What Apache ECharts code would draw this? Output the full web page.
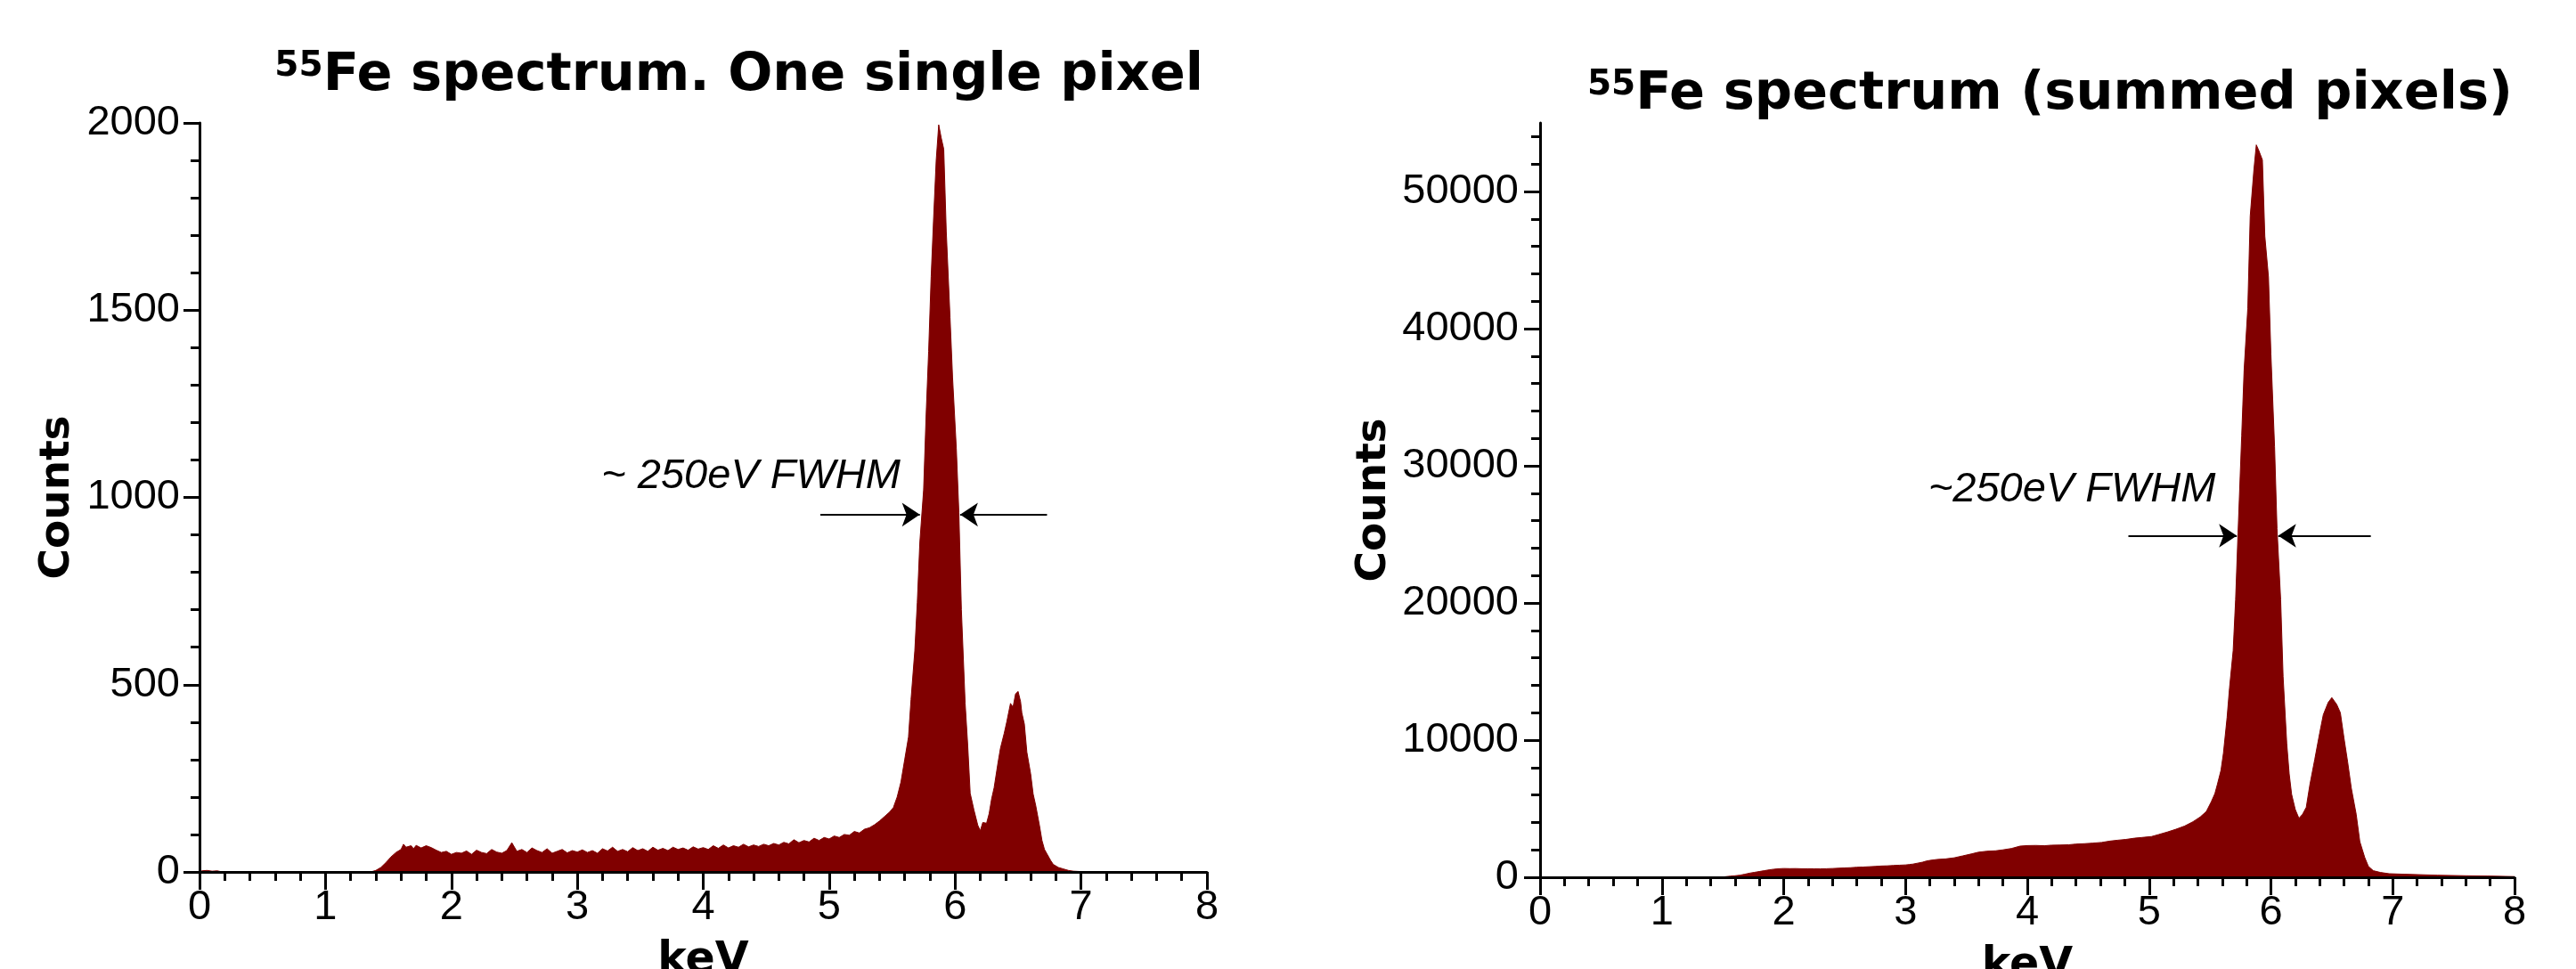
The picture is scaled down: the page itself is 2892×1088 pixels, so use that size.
<!DOCTYPE html>
<html>
<head>
<meta charset="utf-8">
<script src="https://cdn.jsdelivr.net/npm/echarts@6/dist/echarts.min.js"></script>
<style>
html,body{margin:0;padding:0;background:#fff;}
#chart{width:2892px;height:1088px;}
</style>
</head>
<body>
<div id="chart"></div>
<script>
// ---------- data ----------
const leftTitle = 'Fe spectrum. One single pixel';
const rightTitle = 'Fe spectrum (summed pixels)';
const isotope = '55';
const xName = 'keV';
const yName = 'Counts';
const leftNoteText = '~ 250eV FWHM';
const rightNoteText = '~250eV FWHM';

const leftKeV = [0.00,0.02,0.06,0.10,0.14,0.18,1.36,1.40,1.44,1.48,1.52,1.56,1.60,1.62,1.64,1.68,1.70,1.72,1.76,1.80,1.84,1.88,1.92,1.96,
2.00,2.04,2.08,2.12,2.16,2.20,2.24,2.28,2.32,2.36,2.40,2.44,2.48,2.52,2.56,2.60,2.64,2.68,2.72,2.76,2.80,2.84,2.88,2.92,2.96,
3.00,3.04,3.08,3.12,3.16,3.20,3.24,3.28,3.32,3.36,3.40,3.44,3.48,3.52,3.56,3.60,3.64,3.68,3.72,3.76,3.80,3.84,3.88,3.92,3.96,
4.00,4.04,4.08,4.12,4.16,4.20,4.24,4.28,4.32,4.36,4.40,4.44,4.48,4.52,4.56,4.60,4.64,4.68,4.72,4.76,4.80,4.84,4.88,4.92,4.96,
5.00,5.04,5.08,5.12,5.16,5.20,5.24,5.28,5.32,5.36,5.40,5.44,5.48,5.51,5.54,5.57,5.60,5.63,5.65,5.68,5.70,5.72,5.75,5.77,5.79,
5.81,5.83,5.85,5.87,5.89,5.91,5.93,5.96,5.98,6.01,6.03,6.05,6.08,6.10,6.12,6.15,6.18,6.20,6.22,6.25,6.27,6.29,6.31,6.34,6.36,
6.39,6.41,6.44,6.46,6.48,6.50,6.52,6.53,6.55,6.57,6.60,6.62,6.64,6.67,6.69,6.71,6.73,6.76,6.78,6.82,6.86,6.90,6.94,7.00,7.10,8.00];
const leftCounts = [0,3,4,2,3,0,0,4,12,25,40,52,60,74,66,70,62,71,64,70,65,58,52,55,
47,52,50,56,47,58,52,49,60,53,50,57,78,55,60,52,64,57,52,62,50,55,60,51,57,
53,59,52,57,50,62,56,66,55,60,54,65,57,62,55,66,58,63,57,66,60,64,58,67,61,
65,60,70,63,72,64,70,66,74,67,72,68,74,70,76,72,79,75,86,78,84,80,90,84,92,
88,96,92,100,98,108,104,114,118,126,136,148,160,172,200,240,300,360,460,590,720,880,1020,1220,1390,
1590,1750,1900,1995,1960,1930,1710,1480,1320,1130,960,700,450,340,210,165,125,110,132,130,155,195,225,290,330,
370,400,450,440,475,482,455,425,395,320,262,208,178,124,84,60,48,30,20,12,8,4,2,1,0,0];

const rightKeV = [0.00,1.48,1.52,1.56,1.60,1.64,1.68,1.72,1.76,1.80,1.84,1.88,1.92,1.96,2.00,2.05,2.10,2.15,2.20,2.25,2.30,2.35,2.40,2.45,
2.50,2.55,2.60,2.65,2.70,2.75,2.80,2.85,2.90,2.95,3.00,3.03,3.06,3.10,3.14,3.17,3.20,3.26,3.33,3.40,3.47,3.54,3.60,3.67,3.74,
3.80,3.87,3.94,4.00,4.07,4.14,4.20,4.27,4.34,4.40,4.47,4.54,4.61,4.68,4.74,4.81,4.88,4.94,5.02,5.08,5.15,5.22,5.29,5.36,5.42,
5.47,5.51,5.54,5.56,5.59,5.61,5.64,5.66,5.69,5.71,5.73,5.76,5.78,5.81,5.83,5.86,5.88,5.90,5.93,5.95,5.98,6.00,6.03,6.05,6.08,
6.10,6.13,6.15,6.17,6.20,6.23,6.26,6.29,6.32,6.36,6.40,6.43,6.47,6.50,6.54,6.57,6.60,6.63,6.66,6.70,6.73,6.77,6.80,6.84,6.90,
6.97,7.10,7.37,7.60,7.78,8.00];
const rightCounts = [0,0,40,80,110,150,220,300,360,420,480,540,590,620,640,630,635,620,625,615,610,625,640,660,
680,700,730,745,770,790,820,835,860,880,900,930,960,1030,1100,1180,1230,1300,1340,1420,1560,1700,1830,1900,1930,
2000,2100,2270,2310,2320,2300,2340,2350,2370,2420,2450,2490,2540,2640,2700,2760,2850,2900,2970,3120,3300,3500,3730,4050,4400,
4800,5500,6100,6760,7800,9040,11640,13800,16520,20220,25100,32180,37000,41480,48210,51560,53400,53000,52300,46750,43760,38130,31400,25420,20220,
14630,9750,7540,6050,4940,4300,4600,5100,6760,8600,10500,11850,12740,13100,12600,12000,10140,8400,6500,4600,2600,1450,800,480,350,
260,220,150,110,90,50];

// axis scales (tick values)
const xMin = 0, xMax = 8, xStep = 1, xMinorSplit = 5;
const leftYMax = 2000, leftYStep = 500, leftYMinorStep = 100;
const rightYMax = 55000, rightYStep = 10000, rightYMinorStep = 2000;

// FWHM annotations (data units: keV, counts)
const leftArrowY = 954;
const leftArrowIn = [4.93, 5.72];   // from, tip
const leftArrowOut = [6.73, 6.04];  // from, tip
const leftNoteAt = [5.57, 1056];
const rightArrowY = 24900;
const rightArrowIn = [4.83, 5.72];
const rightArrowOut = [6.82, 6.06];
const rightNoteAt = [5.55, 28220];

// ---------- chart ----------
const W = 2892, H = 1088;
const RED = '#800000';
const TICK_FONT = 'Liberation Sans, Arial, sans-serif';
const BOLD_FONT = 'DejaVu Sans, sans-serif';

function pairs(xs, ys){ return xs.map((x,i)=>[x, ys[i]]); }
const plain = v => String(v);

const L = {left:224, right:W-1355, top:138, bottom:H-979};
const R = {left:1729, right:W-2823, top:138, bottom:H-985};
const rH = H - R.top - R.bottom;
const majorTop = R.top + rH * (rightYMax - Math.floor(rightYMax/rightYStep)*rightYStep) / rightYMax;
const minorTop = R.top + rH * (rightYMax - Math.floor(rightYMax/rightYMinorStep)*rightYMinorStep) / rightYMax;

const axisLine = {show:true, lineStyle:{color:'#000', width:3}};
const tickLabel = {color:'#000', fontSize:47, fontFamily:TICK_FONT, formatter:plain};

function xAxisDef(gi, show){
  return {
    type:'value', gridIndex:gi, min:xMin, max:xMax, interval:xStep, show:show, z:5,
    axisLine:{...axisLine, onZero:false},
    axisTick:{show:true, length:20, lineStyle:{color:'#000', width:3}},
    minorTick:{show:true, splitNumber:xMinorSplit, length:10, lineStyle:{color:'#000', width:3}},
    axisLabel:{...tickLabel, margin:17},
    splitLine:{show:false}, minorSplitLine:{show:false},
    name:xName, nameLocation:'middle', nameGap:76, nameMoveOverlap:false,
    nameTextStyle:{color:'#000', fontSize:49, fontWeight:'bold', fontFamily:BOLD_FONT}
  };
}

const nameStyle = {color:'#000', fontSize:47, fontWeight:'bold', fontFamily:BOLD_FONT};
const supStyle = {fontSize:39, fontWeight:'bold', fontFamily:BOLD_FONT, color:'#000', padding:[0,0,22,0]};
const mainStyle = {fontSize:59, fontWeight:'bold', fontFamily:BOLD_FONT, color:'#000'};

const option = {
  animation:false,
  backgroundColor:'#fff',
  title:[
    {text:'{sup|'+isotope+'}{main|'+leftTitle+'}', right:W-1356, top:50,
     textStyle:{rich:{sup:supStyle, main:mainStyle}}},
    {text:'{sup|'+isotope+'}{main|'+rightTitle+'}', right:W-2826, top:71,
     textStyle:{rich:{sup:supStyle, main:mainStyle}}}
  ],
  grid:[
    {...L, containLabel:false, outerBoundsMode:'none'},
    {...R, containLabel:false, outerBoundsMode:'none'},
    {left:R.left, right:R.right, top:majorTop, bottom:R.bottom, containLabel:false, outerBoundsMode:'none'},
    {left:R.left, right:R.right, top:minorTop, bottom:R.bottom, containLabel:false, outerBoundsMode:'none'}
  ],
  xAxis:[
    xAxisDef(0, true),
    xAxisDef(1, true),
    {type:'value', gridIndex:2, min:xMin, max:xMax, show:false},
    {type:'value', gridIndex:3, min:xMin, max:xMax, show:false}
  ],
  yAxis:[
    {type:'value', gridIndex:0, min:0, max:leftYMax, interval:leftYStep, z:5,
     axisLine:{...axisLine, onZero:false},
     axisTick:{show:true, length:18, lineStyle:{color:'#000', width:3}},
     minorTick:{show:true, splitNumber:leftYStep/leftYMinorStep, length:10, lineStyle:{color:'#000', width:3}},
     axisLabel:{...tickLabel, margin:22},
     splitLine:{show:false}, minorSplitLine:{show:false},
     name:yName, nameLocation:'middle', nameGap:136, nameRotate:90, nameMoveOverlap:false, nameTextStyle:nameStyle},
    {type:'value', gridIndex:1, min:0, max:rightYMax, z:5,
     axisLine:{...axisLine, onZero:false},
     axisTick:{show:false}, axisLabel:{show:false}, splitLine:{show:false},
     name:yName, nameLocation:'middle', nameGap:163, nameRotate:90, nameMoveOverlap:false, nameTextStyle:nameStyle},
    {type:'value', gridIndex:2, min:0, max:Math.floor(rightYMax/rightYStep)*rightYStep, interval:rightYStep, z:5,
     axisLine:{show:false, onZero:false},
     axisTick:{show:true, length:18, lineStyle:{color:'#000', width:3}},
     axisLabel:{...tickLabel, margin:24}, splitLine:{show:false}},
    {type:'value', gridIndex:3, min:0, max:Math.floor(rightYMax/rightYMinorStep)*rightYMinorStep, interval:rightYMinorStep, z:5,
     axisLine:{show:false, onZero:false},
     axisTick:{show:true, length:10, lineStyle:{color:'#000', width:3}},
     axisLabel:{show:false}, splitLine:{show:false}}
  ],
  series:[
    {type:'line', xAxisIndex:0, yAxisIndex:0, data:pairs(leftKeV, leftCounts),
     symbol:'none', sampling:null, z:2,
     lineStyle:{color:RED, width:1}, areaStyle:{color:RED, opacity:1}, itemStyle:{color:RED},
     markLine:{silent:true, symbol:['none','arrow'], symbolSize:20, animation:false,
       lineStyle:{color:'#000', width:2, type:'solid'}, label:{show:false},
       data:[[{coord:[leftArrowIn[0], leftArrowY]},{coord:[leftArrowIn[1], leftArrowY]}],
             [{coord:[leftArrowOut[0], leftArrowY]},{coord:[leftArrowOut[1], leftArrowY]}]]},
     markPoint:{silent:true, symbol:'circle', symbolSize:1, itemStyle:{color:'rgba(0,0,0,0)'}, animation:false,
       label:{show:true, position:'left', distance:0, formatter:leftNoteText, color:'#000',
              fontSize:47, fontStyle:'italic', fontFamily:TICK_FONT},
       data:[{coord:leftNoteAt}]}
    },
    {type:'line', xAxisIndex:1, yAxisIndex:1, data:pairs(rightKeV, rightCounts),
     symbol:'none', sampling:null, z:2,
     lineStyle:{color:RED, width:1}, areaStyle:{color:RED, opacity:1}, itemStyle:{color:RED},
     markLine:{silent:true, symbol:['none','arrow'], symbolSize:20, animation:false,
       lineStyle:{color:'#000', width:2, type:'solid'}, label:{show:false},
       data:[[{coord:[rightArrowIn[0], rightArrowY]},{coord:[rightArrowIn[1], rightArrowY]}],
             [{coord:[rightArrowOut[0], rightArrowY]},{coord:[rightArrowOut[1], rightArrowY]}]]},
     markPoint:{silent:true, symbol:'circle', symbolSize:1, itemStyle:{color:'rgba(0,0,0,0)'}, animation:false,
       label:{show:true, position:'left', distance:0, formatter:rightNoteText, color:'#000',
              fontSize:47, fontStyle:'italic', fontFamily:TICK_FONT},
       data:[{coord:rightNoteAt}]}
    }
  ]
};

const chart = echarts.init(document.getElementById('chart'), null, {renderer:'canvas', width:W, height:H});
chart.setOption(option);
</script>
</body>
</html>
